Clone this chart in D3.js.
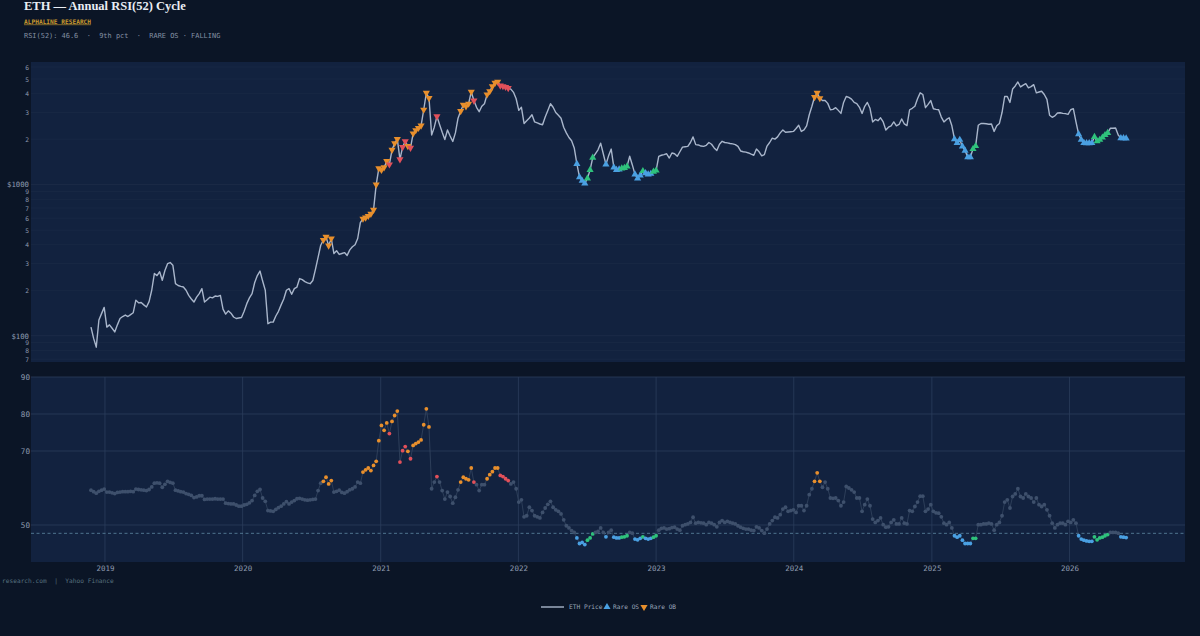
<!DOCTYPE html>
<html>
<head>
<meta charset="utf-8">
<script src="https://cdn.jsdelivr.net/npm/d3@7"></script>
<style>
  body { margin: 0; background: #0b1526; overflow: hidden; }
  text { font-family: "DejaVu Sans Mono", monospace; }
</style>
</head>
<body>
<div id="chart"></div>
<script>
// weekly closes, first week 2018-11-25
const firstWeek = Date.UTC(2018, 10, 25);

const price = [
  114,96,84,127,140,154,114,118,112,106,
  118,130,134,137,134,138,142,172,165,166,
  160,155,168,200,258,250,265,233,270,300,
  305,293,221,215,212,210,200,185,175,167,
  180,190,205,167,173,180,178,183,182,185,
  150,139,146,141,133,130,131,132,145,163,
  178,190,225,250,268,230,200,120,123,123,
  135,145,160,175,200,205,188,205,210,239,
  235,228,224,221,232,275,330,397,430,451,
  395,440,350,365,345,350,355,340,370,388,
  400,440,560,595,605,620,640,680,1000,1280,
  1250,1300,1430,1360,1700,1880,2000,1470,1770,1935,
  1800,1750,2180,2290,2370,2460,3130,4050,3740,2130,
  2400,2830,2500,2220,1990,2300,2100,1930,2200,2750,
  3070,3380,3300,3430,4120,3600,3250,3040,3300,3430,
  3950,4150,4470,4720,4800,4520,4480,4430,4350,4290,
  4080,3700,3100,3250,2540,2650,2760,2900,2600,2560,
  2520,2490,2800,3100,3430,3250,3000,2880,2750,2400,
  2200,2050,1950,1750,1370,1120,1060,1020,1100,1250,
  1510,1600,1700,1880,1600,1360,1550,1720,1300,1250,
  1260,1280,1290,1320,1540,1350,1170,1100,1150,1230,
  1190,1170,1180,1220,1240,1540,1565,1580,1600,1500,
  1620,1600,1540,1650,1770,1780,1790,1900,2070,1840,
  1830,1800,1790,1820,1900,1850,1750,1680,1850,1935,
  1900,1890,1870,1860,1840,1790,1670,1650,1640,1620,
  1590,1565,1720,1650,1550,1580,1800,1900,2030,2000,
  2070,2200,2300,2220,2230,2240,2250,2350,2470,2250,
  2300,2450,2900,3300,3800,4050,3730,3600,3600,3450,
  3130,3150,3230,3100,2960,3500,3830,3780,3680,3500,
  3440,3250,2960,3300,3500,3200,2600,2700,2650,2770,
  2600,2300,2400,2450,2600,2450,2500,2720,2520,2460,
  3130,3200,3300,3700,4050,3950,3230,3400,3600,3180,
  3150,3130,2800,2600,2700,2770,2450,2000,1890,1980,
  1790,1680,1520,1520,1720,1800,2470,2540,2540,2530,
  2510,2520,2250,2450,2540,3000,3830,3830,3500,4290,
  4500,4780,4430,4550,4660,4370,4450,4590,4050,4100,
  4150,3950,3670,2880,2790,2850,2980,2990,2960,2950,
  2920,3130,3180,2600,2160,1980,1890,1880,1880,1890,
  2070,1935,1980,2050,2130,2200,2360,2360,2370,2130,
  2030,2030,2020
];

const rsi = [
  59.4,59.0,58.6,59.1,59.4,59.7,58.9,58.9,58.7,58.5,
  58.8,58.9,59.0,59.0,59.0,59.1,59.0,59.7,59.6,59.5,
  59.4,59.3,59.6,60.3,61.3,61.4,61.3,60.2,61.0,61.8,
  61.5,61.3,59.4,59.2,59.0,58.9,58.5,58.3,58.0,57.4,
  57.6,57.9,57.9,56.9,57.0,57.0,57.0,57.1,57.0,57.0,
  57.0,55.9,55.8,55.7,55.7,55.4,55.1,55.1,55.4,55.6,
  56.0,56.6,58.0,59.1,59.6,57.3,56.4,53.9,53.8,53.7,
  54.2,54.7,55.1,55.7,56.3,55.7,56.2,56.6,57.1,57.2,
  57.0,56.8,56.7,56.8,56.9,57.0,59.3,61.3,61.8,62.9,
  61.1,62.0,58.9,59.1,59.4,58.8,58.6,59.0,59.5,59.8,
  60.3,61.6,61.3,64.3,64.9,65.4,64.7,66.1,67.2,72.8,
  76.9,75.6,77.6,74.7,78.0,79.6,80.8,67.0,70.1,71.2,
  69.9,67.9,71.5,72.0,72.4,73.0,77.1,81.4,76.5,59.8,
  61.6,63.1,61.6,59.3,57.0,58.9,57.7,55.9,57.5,59.5,
  61.6,62.9,62.5,62.2,65.4,61.6,60.9,59.3,60.9,60.9,
  62.5,63.6,64.4,65.4,65.4,63.4,63.1,62.5,62.0,61.1,
  61.6,59.8,56.2,56.8,52.2,52.5,54.8,53.9,52.5,52.2,
  51.9,53.4,54.6,55.6,56.4,54.8,54.1,53.7,53.0,51.4,
  49.8,49.2,48.5,48.0,46.5,45.0,45.3,44.7,45.9,46.5,
  47.6,48.0,48.3,49.2,48.0,46.8,48.0,48.6,46.7,46.5,
  46.5,46.7,46.8,47.1,48.0,47.8,46.2,46.0,46.4,46.8,
  46.4,46.2,46.4,46.7,47.1,48.6,49.1,49.2,48.9,49.0,
  49.3,49.4,48.9,48.6,49.8,50.1,50.3,50.7,52.1,50.5,
  50.7,50.6,50.5,50.1,50.7,50.5,50.1,49.5,50.7,51.2,
  50.7,51.0,50.7,50.5,50.3,49.8,49.4,49.1,48.9,48.9,
  48.6,48.5,49.5,49.2,48.5,47.8,48.9,50.3,51.2,52.1,
  51.9,52.8,54.3,54.8,53.7,53.9,54.1,53.4,55.2,55.2,
  53.9,55.2,58.2,59.8,61.8,64.1,61.8,60.2,61.6,59.8,
  57.3,57.2,57.3,56.6,55.2,56.2,60.4,60.0,59.5,58.9,
  57.3,57.3,53.7,55.5,57.0,55.2,51.6,50.7,51.2,51.9,
  50.1,49.4,49.5,50.7,51.4,50.3,50.3,51.9,50.5,50.3,
  53.9,53.7,55.0,56.2,57.8,57.8,53.7,54.3,55.5,53.7,
  53.3,53.2,52.2,50.5,50.1,50.7,49.2,47.1,46.7,47.1,
  45.9,45.0,45.0,45.0,46.4,46.4,50.1,50.1,50.3,50.3,
  50.5,50.3,48.6,50.1,50.7,52.5,56.2,56.8,54.6,57.7,
  58.4,59.8,57.7,57.3,58.4,57.7,57.3,56.2,57.3,55.5,
  55.0,55.5,54.1,52.5,50.5,49.2,50.1,50.5,50.5,50.1,
  51.0,50.7,51.4,50.5,47.1,46.2,45.9,45.7,45.6,45.6,
  46.8,46.0,46.5,46.7,47.1,47.4,48.0,48.0,48.0,47.8,
  46.8,46.7,46.6
];

// week indexes flagged in each state
const rareOB = [88,89,90,91,103,104,105,106,107,108,109,110,111,112,114,115,116,120,
  122,123,124,125,126,127,128,140,141,142,143,144,150,151,152,153,154,274,275,276];
const obFalling = [113,117,118,119,121,131,145,155,156,157,158];
const rareOS = [184,185,186,187,195,198,199,200,206,207,208,210,211,212,
  327,328,329,330,331,332,333,374,375,376,377,378,379,390,391,392];
const osRising = [188,189,190,201,202,203,209,213,214,334,335,380,381,382,383,384,385];

const years = [2019, 2020, 2021, 2022, 2023, 2024, 2025, 2026];
const priceTicks = [70, 80, 90, 100, 200, 300, 400, 500, 600, 700, 800, 900, 1000, 2000, 3000, 4000, 5000, 6000];
const rsiTicks = [50, 70, 80, 90];
const osThreshold = 47.75;

const legendItems = [
  { label: "ETH Price", kind: "line", x: 541 },
  { label: "Rare OS", kind: "os", x: 607 },
  { label: "Rare OB", kind: "ob", x: 644 }
];

const colors = { ob: "#e88f2c", obf: "#e2505a", os: "#4aa0e2", osr: "#2fc27c" };

// ---------------------------------------------------------------
const W = 1200, H = 636;
const left = 31, right = 1185;

const svg = d3.select("#chart").append("svg")
  .attr("width", W)
  .attr("height", H);

svg.append("rect").attr("width", W).attr("height", H).attr("fill", "#0b1526");

const dates = price.map((d, i) => d3.utcWeek.offset(new Date(firstWeek), i));

const x = d3.scaleUtc()
  .domain([new Date(Date.UTC(2018, 5, 19)), new Date(Date.UTC(2026, 10, 3))])
  .range([left, right]);

const yP = d3.scaleLog().domain([67, 6480]).range([362, 62]);
const yR = d3.scaleLinear().domain([40, 90]).range([562, 377]);

const state = new Map();
rareOB.forEach(i => state.set(i, "ob"));
obFalling.forEach(i => state.set(i, "obf"));
rareOS.forEach(i => state.set(i, "os"));
osRising.forEach(i => state.set(i, "osr"));

// panel backgrounds
svg.append("rect").attr("x", left).attr("y", 62).attr("width", right - left).attr("height", 300).attr("fill", "#12223f");
svg.append("rect").attr("x", left).attr("y", 377).attr("width", right - left).attr("height", 185).attr("fill", "#12223f");

const yearDates = years.map(y => new Date(Date.UTC(y, 0, 1)));

// ---- top panel: price (log) ----
const priceG = svg.append("g");

priceG.selectAll("line.hgrid")
  .data(priceTicks)
  .enter().append("line")
  .attr("x1", left).attr("x2", right)
  .attr("y1", d => yP(d)).attr("y2", d => yP(d))
  .attr("stroke", "#ffffff")
  .attr("stroke-opacity", d => (d === 100 || d === 1000) ? 0.06 : 0.035)
  .attr("stroke-width", 0.8);

const priceFmt = d => {
  if (d === 100 || d === 1000) return "$" + d;
  return String(d)[0];
};

const yPAxis = priceG.append("g")
  .attr("transform", `translate(${left},0)`)
  .call(d3.axisLeft(yP).tickValues(priceTicks).tickFormat(priceFmt).tickSize(0).tickPadding(2));
yPAxis.select(".domain").remove();
yPAxis.selectAll("text")
  .attr("fill", "#8e9bb0")
  .attr("font-size", d => (d === 100 || d === 1000) ? "7.3px" : "6.3px");

priceG.append("path")
  .datum(price)
  .attr("fill", "none")
  .attr("stroke", "#a9b6cb")
  .attr("stroke-width", 1.4)
  .attr("stroke-linejoin", "round")
  .attr("d", d3.line()
    .x((d, i) => x(dates[i]))
    .y(d => yP(d)));

const tri = d3.symbol().type(d3.symbolTriangle).size(22);

priceG.selectAll("path.sig")
  .data(price.map((p, i) => ({ p, i, s: state.get(i) })).filter(d => d.s))
  .enter().append("path")
  .attr("class", "sig")
  .attr("d", tri)
  .attr("transform", d => {
    const rot = (d.s === "ob" || d.s === "obf") ? 180 : 0;
    return `translate(${x(dates[d.i])},${yP(d.p)}) rotate(${rot})`;
  })
  .attr("fill", d => colors[d.s]);

// ---- bottom panel: RSI(52) ----
const rsiG = svg.append("g");

rsiG.selectAll("line.vgrid")
  .data(yearDates)
  .enter().append("line")
  .attr("x1", d => x(d)).attr("x2", d => x(d))
  .attr("y1", 377).attr("y2", 562)
  .attr("stroke", "#2b3d5c")
  .attr("stroke-width", 0.8);

rsiG.selectAll("line.hgrid")
  .data(rsiTicks)
  .enter().append("line")
  .attr("x1", left).attr("x2", right)
  .attr("y1", d => yR(d)).attr("y2", d => yR(d))
  .attr("stroke", "#2b3d5c")
  .attr("stroke-width", 0.8);

rsiG.append("line")
  .attr("x1", left).attr("x2", right)
  .attr("y1", yR(osThreshold)).attr("y2", yR(osThreshold))
  .attr("stroke", "#5e8aa3")
  .attr("stroke-width", 0.8)
  .attr("stroke-dasharray", "3,2.5");

const yRAxis = rsiG.append("g")
  .attr("transform", `translate(${left},0)`)
  .call(d3.axisLeft(yR).tickValues(rsiTicks).tickSize(0).tickPadding(1));
yRAxis.select(".domain").remove();
yRAxis.selectAll("text")
  .attr("fill", "#8e9bb0")
  .attr("font-size", "7.6px");

rsiG.append("path")
  .datum(rsi)
  .attr("fill", "none")
  .attr("stroke", "#33455f")
  .attr("stroke-width", 0.8)
  .attr("d", d3.line()
    .x((d, i) => x(dates[i]))
    .y(d => yR(d)));

rsiG.selectAll("circle")
  .data(rsi.map((v, i) => ({ v, i, s: state.get(i) })))
  .enter().append("circle")
  .attr("cx", d => x(dates[d.i]))
  .attr("cy", d => yR(d.v))
  .attr("r", 1.9)
  .attr("fill", d => d.s ? colors[d.s] : "#3e506c");

// x axis
const xAxis = svg.append("g")
  .attr("transform", "translate(0,562)")
  .call(d3.axisBottom(x).tickValues(yearDates).tickFormat(d3.utcFormat("%Y")).tickSize(0).tickPadding(4));
xAxis.select(".domain").remove();
xAxis.selectAll("text")
  .attr("fill", "#8e9bb0")
  .attr("font-size", "7.5px");

// ---- titles ----
svg.append("text")
  .attr("x", 24).attr("y", 9.5)
  .attr("fill", "#e9edf4")
  .style("font-family", "'Liberation Serif', serif")
  .attr("font-weight", "bold")
  .attr("font-size", "12.5px")
  .text("ETH — Annual RSI(52) Cycle");

svg.append("text")
  .attr("x", 24).attr("y", 23.5)
  .attr("fill", "#c99a2e")
  .attr("font-weight", "bold")
  .attr("font-size", "6.2px")
  .attr("text-decoration", "underline")
  .text("ALPHALINE RESEARCH");

svg.append("text")
  .attr("x", 24).attr("y", 37.5)
  .attr("fill", "#8390a3")
  .attr("font-size", "6.95px")
  .style("white-space", "pre")
  .text("RSI(52): 46.6  ·  9th pct  ·  RARE OS · FALLING");

svg.append("text")
  .attr("x", 2).attr("y", 583)
  .attr("fill", "#56707e")
  .attr("font-size", "6.2px")
  .style("white-space", "pre")
  .text("research.com  |  Yahoo Finance");

// ---- legend ----
const legend = svg.append("g").attr("transform", "translate(0,607)");

legendItems.forEach(it => {
  if (it.kind === "line") {
    legend.append("line")
      .attr("x1", it.x).attr("x2", it.x + 23)
      .attr("y1", 0).attr("y2", 0)
      .attr("stroke", "#a9b6cb").attr("stroke-width", 1.4);
    legend.append("text").attr("x", it.x + 28).attr("y", 2.2)
      .attr("fill", "#9aa6b8").attr("font-size", "6.2px").text(it.label);
  } else {
    legend.append("path")
      .attr("d", tri)
      .attr("transform", `translate(${it.x},0) rotate(${it.kind === "ob" ? 180 : 0})`)
      .attr("fill", colors[it.kind]);
    legend.append("text").attr("x", it.x + 6).attr("y", 2.2)
      .attr("fill", "#9aa6b8").attr("font-size", "6.2px").text(it.label);
  }
});
</script>
</body>
</html>
